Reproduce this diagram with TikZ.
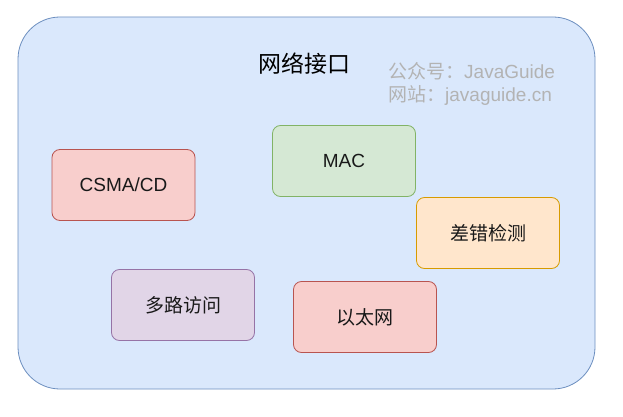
\documentclass[tikz,border=0pt]{standalone}
\usepackage{fontspec}
\setmainfont{Liberation Sans}
\newfontfamily\cjk{Noto Sans CJK SC}
\usepackage{tikz}
\usetikzlibrary{positioning}
\definecolor{blueFill}{HTML}{DAE8FC}
\definecolor{blueLine}{HTML}{6C8EBF}
\definecolor{redFill}{HTML}{F8CECC}
\definecolor{redLine}{HTML}{B85450}
\definecolor{greenFill}{HTML}{D5E8D4}
\definecolor{greenLine}{HTML}{82B366}
\definecolor{orangeFill}{HTML}{FFE6CC}
\definecolor{orangeLine}{HTML}{D79B00}
\definecolor{purpleFill}{HTML}{E1D5E7}
\definecolor{purpleLine}{HTML}{9673A6}
\definecolor{markGray}{HTML}{B3B3B3}

\begin{document}
\begin{tikzpicture}[x=1pt,y=-1pt,
    block/.style={draw,line width=0.8pt,rounded corners=8pt,minimum width=143pt,minimum height=71pt,
      font=\fontsize{19}{23}\selectfont,text=black!90},
    red block/.style={block,fill=redFill,draw=redLine},
    green block/.style={block,fill=greenFill,draw=greenLine},
    orange block/.style={block,fill=orangeFill,draw=orangeLine},
    purple block/.style={block,fill=purpleFill,draw=purpleLine}]
            \useasboundingbox (0,0) rectangle (623,417);
            \node[draw=blueLine,fill=blueFill,line width=0.8pt,rounded corners=42pt,
              minimum width=577pt,minimum height=372pt] (iface) at (306.5,203) {};
            \node[font=\cjk\fontsize{23}{27}\selectfont] (title) at (304.5,64) {网络接口};
            \node[font=\fontsize{19}{23}\selectfont,text=markGray,align=left,anchor=west,inner sep=0pt] (mark) at (388,84)
              {{\cjk 公众号：}JavaGuide\\{\cjk 网站：}javaguide.cn};

            \node[red block] (csma) at (123.5,185) {CSMA/CD};
            \node[green block] (mac) at (344,161) {MAC};
            \node[orange block] (check) at (488,233) {\cjk 差错检测};
            \node[purple block] (multi) at (183,305) {\cjk 多路访问};
            \node[red block] (ether) at (365,317) {\cjk 以太网};
          \end{tikzpicture}
\end{document}
